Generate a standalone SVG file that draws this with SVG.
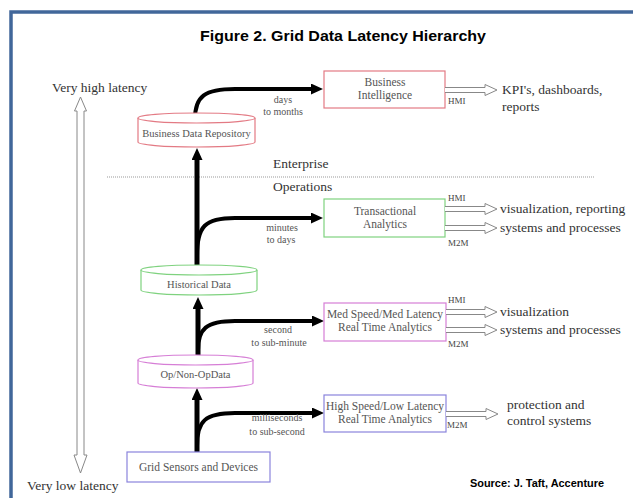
<svg xmlns="http://www.w3.org/2000/svg" width="633" height="498" viewBox="0 0 633 498">
<style>
.frame{fill:#fff;stroke:#41679a;stroke-width:3.5}
.title{font-family:"Liberation Sans",Arial,sans-serif;font-weight:bold;fill:#000}
.serif{font-family:"Liberation Serif","Times New Roman",serif}
.big{font-size:13.5px;fill:#333}
.lbl{font-size:10px;fill:#555;text-anchor:middle}
.cyl{font-size:10.5px;fill:#555;text-anchor:middle}
.box{font-size:11.5px;fill:#555;text-anchor:middle}
.io{font-size:9px;fill:#444}
.hollow{fill:#fff;stroke:#888;stroke-width:1}
.flow{fill:none;stroke:#000;stroke-width:4}
.trunk{fill:none;stroke:#000;stroke-width:5}
.red{fill:#fff;stroke:#e37a84;stroke-width:1.2}
.green{fill:#fff;stroke:#7fd27f;stroke-width:1.2}
.mag{fill:#fff;stroke:#d67ed6;stroke-width:1.2}
.blue{fill:#fff;stroke:#8a84dc;stroke-width:1.2}
</style>
<defs>
<marker id="ah" markerUnits="userSpaceOnUse" markerWidth="13" markerHeight="11" refX="0" refY="5.5" orient="auto">
<path d="M0,0 L12,5.5 L0,11 Z" fill="#000"/>
</marker>
</defs>

<rect class="frame" x="11" y="12" width="640" height="500"/>
<text class="title" x="343" y="41" font-size="15" text-anchor="middle" textLength="286" lengthAdjust="spacingAndGlyphs">Figure 2. Grid Data Latency Hierarchy</text>

<g id="latency-axis">
<path class="hollow" d="M80.5,97 L86.5,111 L84,111 L84,455 L87,455 L80.5,473 L74,455 L77,455 L77,111 L74.5,111 Z"/>
<text class="serif big" x="52" y="92" font-size="14">Very high latency</text>
<text class="serif big" x="27" y="490" font-size="14">Very low latency</text>
</g>

<g id="divider">
<line x1="107" y1="177" x2="595" y2="177" stroke="#999" stroke-width="1" stroke-dasharray="1,1"/>
<text class="serif big" x="273" y="168" font-size="13">Enterprise</text>
<text class="serif big" x="273" y="191" font-size="13">Operations</text>
</g>

<g id="connectors">
<path class="trunk" d="M197,452 L197,400" marker-end="url(#ah)"/>
<path class="flow" d="M197,446 C197,421 205,413 235,413 L312,413" marker-end="url(#ah)"/>
<path class="trunk" d="M198,357 L198,309" marker-end="url(#ah)"/>
<path class="flow" d="M198,350 C198,329 206,321 235,321 L312,321" marker-end="url(#ah)"/>
<path class="trunk" d="M197,265 L197,160" marker-end="url(#ah)"/>
<path class="flow" d="M197,256 C197,226 205,218 235,218 L311,218" marker-end="url(#ah)"/>
<path class="flow" d="M195,119 C195,96 205,89 235,89 L311,89" marker-end="url(#ah)"/>
<text class="serif lbl" x="283" y="103">days</text>
<text class="serif lbl" x="283" y="115">to months</text>
<text class="serif lbl" x="282" y="231">minutes</text>
<text class="serif lbl" x="281" y="243">to days</text>
<text class="serif lbl" x="278" y="333">second</text>
<text class="serif lbl" x="279" y="346">to sub-minute</text>
<text class="serif lbl" x="277" y="421">milliseconds</text>
<text class="serif lbl" x="277" y="435">to sub-second</text>
</g>

<g id="business-data-repository">
<path class="red" d="M138,118 L138,142 A58.5,5 0 0 0 255,142 L255,118"/>
<ellipse class="red" cx="196.5" cy="118" rx="58.5" ry="5"/>
<text class="serif cyl" x="196.5" y="137">Business Data Repository</text>
</g>

<g id="historical-data">
<path class="green" d="M141,270 L141,290 A58,5 0 0 0 257,290 L257,270"/>
<ellipse class="green" cx="199" cy="270" rx="58" ry="5"/>
<text class="serif cyl" x="199" y="288">Historical Data</text>
</g>

<g id="op-non-op-data">
<path class="mag" d="M138,360 L138,383 A57.5,5 0 0 0 253,383 L253,360"/>
<ellipse class="mag" cx="195.5" cy="360" rx="57.5" ry="5"/>
<text class="serif cyl" x="195.5" y="378">Op/Non-OpData</text>
</g>

<g id="grid-sensors">
<rect class="blue" x="127" y="452" width="143" height="30"/>
<text class="serif box" x="198.5" y="471" font-size="12">Grid Sensors and Devices</text>
</g>

<g id="business-intelligence">
<rect class="red" x="324" y="71" width="121" height="37"/>
<text class="serif box" x="385" y="86">Business</text>
<text class="serif box" x="385" y="99">Intelligence</text>
<path class="hollow" d="M445,87.5 L485,87.5 L485,84.5 L497,90 L485,95.5 L485,92.5 L445,92.5"/>
<text class="serif io" x="448" y="104">HMI</text>
<text class="serif big" x="502" y="94">KPI's, dashboards,</text>
<text class="serif big" x="502" y="111">reports</text>
</g>

<g id="transactional-analytics">
<rect class="green" x="324" y="199" width="121" height="38"/>
<text class="serif box" x="385" y="215">Transactional</text>
<text class="serif box" x="385" y="228">Analytics</text>
<path class="hollow" d="M445,206.5 L485,206.5 L485,203.5 L497,209 L485,214.5 L485,211.5 L445,211.5"/>
<path class="hollow" d="M445,225.5 L485,225.5 L485,222.5 L497,228 L485,233.5 L485,230.5 L445,230.5"/>
<text class="serif io" x="448" y="201">HMI</text>
<text class="serif io" x="448" y="246">M2M</text>
<text class="serif big" x="500" y="213">visualization, reporting</text>
<text class="serif big" x="500" y="232">systems and processes</text>
</g>

<g id="med-speed-analytics">
<rect class="mag" x="324" y="303" width="122" height="38"/>
<text class="serif box" x="385" y="318">Med Speed/Med Latency</text>
<text class="serif box" x="385" y="331">Real Time Analytics</text>
<path class="hollow" d="M446,309.5 L485,309.5 L485,306.5 L497,312 L485,317.5 L485,314.5 L446,314.5"/>
<path class="hollow" d="M446,327.5 L485,327.5 L485,324.5 L497,330 L485,335.5 L485,332.5 L446,332.5"/>
<text class="serif io" x="448" y="303">HMI</text>
<text class="serif io" x="448" y="347">M2M</text>
<text class="serif big" x="500" y="316">visualization</text>
<text class="serif big" x="500" y="334">systems and processes</text>
</g>

<g id="high-speed-analytics">
<rect class="blue" x="324" y="395" width="122" height="37"/>
<text class="serif box" x="385" y="410">High Speed/Low Latency</text>
<text class="serif box" x="385" y="423">Real Time Analytics</text>
<path class="hollow" d="M446,411.5 L486,411.5 L486,408.5 L498,414 L486,419.5 L486,416.5 L446,416.5"/>
<text class="serif io" x="447" y="428">M2M</text>
<text class="serif big" x="507" y="409">protection and</text>
<text class="serif big" x="507" y="425">control systems</text>
</g>

<text class="title" x="470" y="487" font-size="11" textLength="134" lengthAdjust="spacingAndGlyphs">Source: J. Taft, Accenture</text>
</svg>
